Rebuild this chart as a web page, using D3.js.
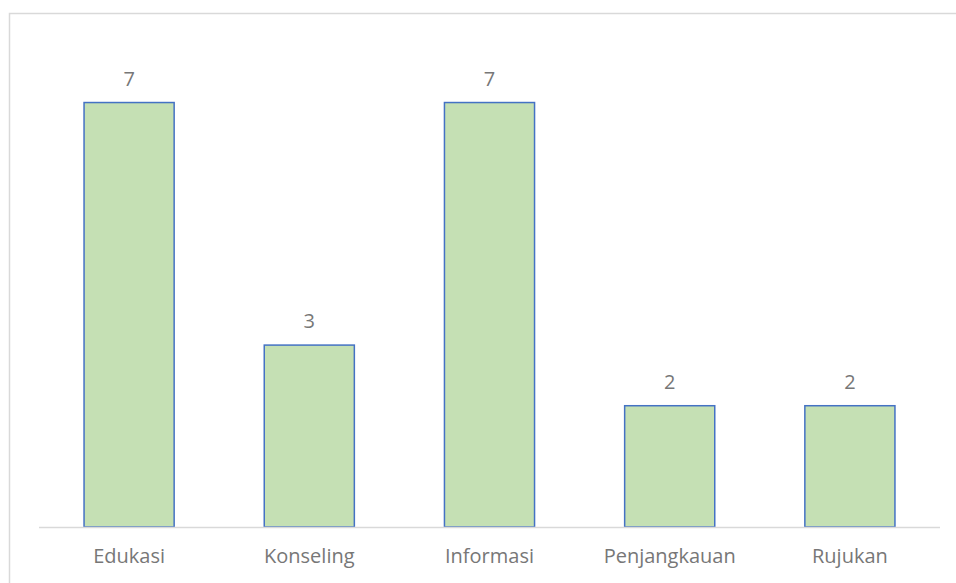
<!DOCTYPE html>
<html><head><meta charset="utf-8">
<script src="https://cdn.jsdelivr.net/npm/d3@7"></script>
<style>body{margin:0;background:#fff}svg{display:block}text{font-family:"Open Sans",sans-serif;fill:#777}</style>
</head><body><svg id="c" width="956" height="583"></svg>
<script>
const categories = ["Edukasi","Konseling","Informasi","Penjangkauan","Rujukan"];
const values = [7,3,7,2,2];

const svg = d3.select("#c");
svg.append("rect").attr("x",9.5).attr("y",13.5).attr("width",960).attr("height",600)
  .attr("fill","#fff").attr("stroke","#d9d9d9").attr("stroke-width",1.5);

const x = d3.scaleBand().domain(categories).range([39,940]).paddingInner(0.5).paddingOuter(0.25);
const y = d3.scaleLinear().domain([0,8]).range([527,41.9]);

svg.selectAll("rect.bar").data(values).join("rect").attr("class","bar")
  .attr("x",(d,i)=>x(categories[i])).attr("width",x.bandwidth())
  .attr("y",d=>y(d)).attr("height",d=>y(0)-y(d))
  .attr("fill","#c5e0b4").attr("stroke","#4472c4").attr("stroke-width",1.5);

svg.append("line").attr("x1",39).attr("x2",940).attr("y1",y(0)+0.5).attr("y2",y(0)+0.5)
  .attr("stroke","#d9d9d9").attr("stroke-width",1.5);

svg.selectAll("text.val").data(values).join("text").attr("class","val")
  .attr("x",(d,i)=>x(categories[i])+x.bandwidth()/2).attr("y",d=>y(d)-17)
  .attr("text-anchor","middle").attr("font-size",20).text(d=>d);

const xa = svg.append("g").attr("transform",`translate(0,${y(0)})`)
  .call(d3.axisBottom(x).tickSize(0).tickPadding(22));
xa.select(".domain").remove();
xa.selectAll("text").attr("font-size",20).style("font-family","'Open Sans',sans-serif").attr("fill","#777");
</script></body></html>
